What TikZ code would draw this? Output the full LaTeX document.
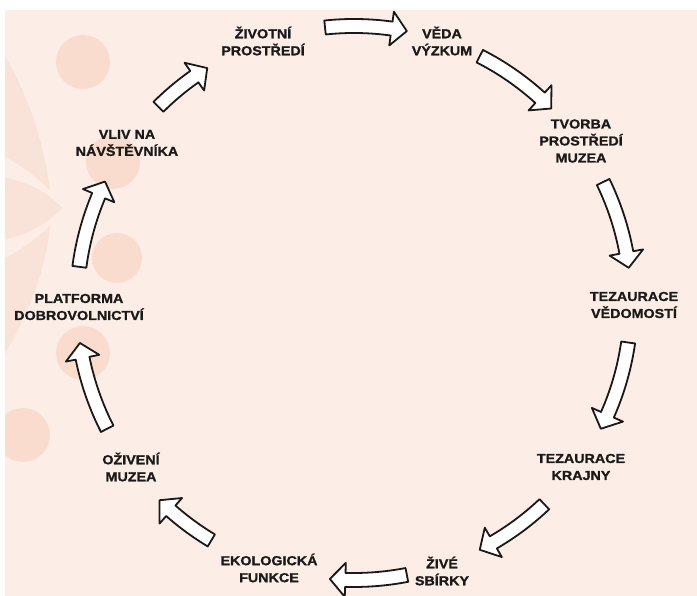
\documentclass[tikz,border=0pt]{standalone}
\usepackage{fontspec}
\newfontfamily\lblfont[FakeStretch=1.1,FakeBold=1.2]{Liberation Sans}
\definecolor{bgpeach}{HTML}{FCEEE6}
\definecolor{dotpeach}{HTML}{F9DCCE}
\definecolor{petalc}{HTML}{F9E2D8}
\definecolor{txt}{HTML}{1A1A1A}
\newcommand\blkarrow[2]{%
  \pgfmathsetmacro\hb{#2+3.2}%
  \draw[blk] (#1:284pt) arc[start angle=#1, end angle=\hb, radius=284pt]
    -- (\hb:294pt) -- (#2:277pt) -- (\hb:260pt) -- (\hb:270pt)
    arc[start angle=\hb, end angle=#1, radius=270pt] -- cycle;}
\begin{document}
\begin{tikzpicture}[x=1pt,y=1pt,
  lbl/.style={font=\lblfont\bfseries\fontsize{13}{17}\selectfont, text=txt, align=center, inner sep=0pt},
  blk/.style={draw=black!90, fill=white, line width=1.8pt, line join=round},
  dot/.style={fill=dotpeach, draw=none},
  petal/.style={fill=petalc, draw=none}]
\useasboundingbox (0,0) rectangle (697,596);
\fill[white] (0,0) rectangle (697,596);
\fill[bgpeach] (5,0) rectangle (697,586);
% decorations (pixel coordinates, y down)
\begin{scope}[shift={(0,596)}, yscale=-1]
  \clip (5,10) rectangle (697,596);
  \fill[petal] (50,190) .. controls (40,120) and (20,80) .. (-10,30) -- (-10,150) .. controls (15,160) and (35,175) .. (50,190) -- cycle;
  \fill[petal] (62,208) .. controls (45,190) and (25,180) .. (-10,175) -- (-10,243) .. controls (25,236) and (45,226) .. (62,208) -- cycle;
  \fill[petal] (50,226) .. controls (35,240) and (15,255) .. (-10,265) -- (-10,380) .. controls (20,330) and (45,280) .. (50,226) -- cycle;
  \fill[dot] (83,62) circle (27);
  \fill[dot] (113,162) circle (27);
  \fill[dot] (117,258) circle (25);
  \fill[dot] (83,353) circle (27);
  \fill[dot] (23,435) circle (27);
\end{scope}
% block arrows around the cycle
\begin{scope}[shift={(354,293)}]
  \clip (-354,-293) rectangle (343,293);
  \blkarrow{96}{79}
  \blkarrow{63}{44.6}
  \blkarrow{25.9}{7.3}
  \blkarrow{-8.2}{-27}
  \blkarrow{-46.6}{-63}
  \blkarrow{-79}{-95}
  \blkarrow{-121}{-134.6}
  \blkarrow{-153}{-171.7}
  \blkarrow{172.5}{154}
  \blkarrow{134.9}{122}
\end{scope}
% labels
\node[lbl] (zp) at (263,555) {ŽIVOTNÍ\\PROSTŘEDÍ};
\node[lbl] (vv) at (442,555) {VĚDA\\VÝZKUM};
\node[lbl] (tpm) at (581,455) {TVORBA\\PROSTŘEDÍ\\MUZEA};
\node[lbl] (tv) at (634,291) {TEZAURACE\\VĚDOMOSTÍ};
\node[lbl] (tk) at (581,129) {TEZAURACE\\KRAJNY};
\node[lbl] (zs) at (442,25) {ŽIVÉ\\SBÍRKY};
\node[lbl] (ef) at (269,28) {EKOLOGICKÁ\\FUNKCE};
\node[lbl] (om) at (131,129) {OŽIVENÍ\\MUZEA};
\node[lbl] (pd) at (79,289) {PLATFORMA\\DOBROVOLNICTVÍ};
\node[lbl] (vn) at (127,453) {VLIV NA\\NÁVŠTĚVNÍKA};
\end{tikzpicture}
\end{document}
